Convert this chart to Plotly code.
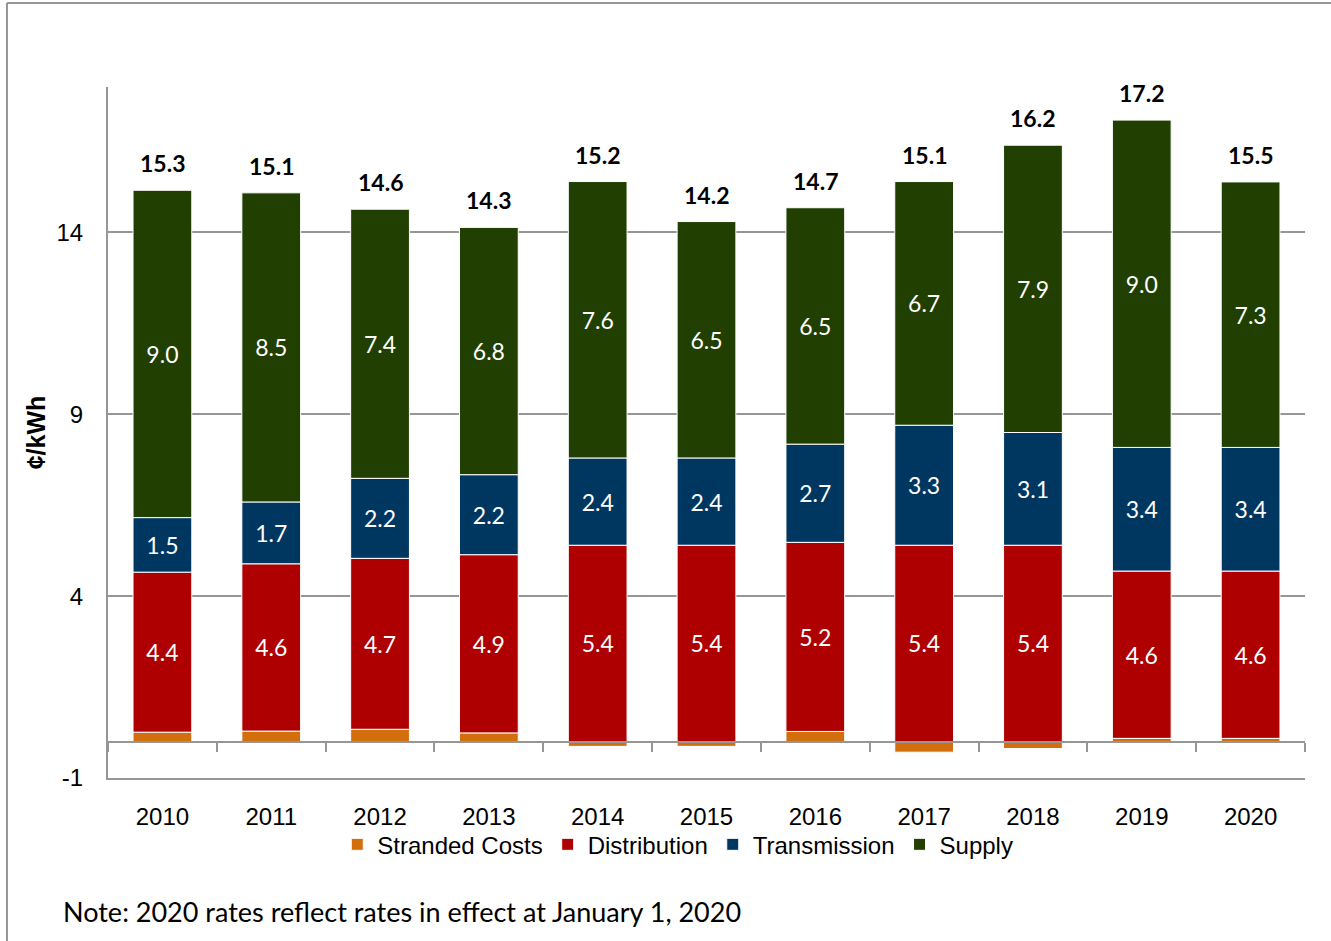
import plotly.graph_objects as go

years = ["2010", "2011", "2012", "2013", "2014", "2015", "2016", "2017", "2018", "2019", "2020"]
stranded = [0.26, 0.29, 0.34, 0.24, -0.13, -0.13, 0.28, -0.29, -0.19, 0.09, 0.09]
distribution = [4.4, 4.6, 4.7, 4.9, 5.4, 5.4, 5.2, 5.4, 5.4, 4.6, 4.6]
transmission = [1.5, 1.7, 2.2, 2.2, 2.4, 2.4, 2.7, 3.3, 3.1, 3.4, 3.4]
supply = [9.0, 8.5, 7.4, 6.8, 7.6, 6.5, 6.5, 6.7, 7.9, 9.0, 7.3]
totals = [15.3, 15.1, 14.6, 14.3, 15.2, 14.2, 14.7, 15.1, 16.2, 17.2, 15.5]
y_ticks = [-1, 4, 9, 14]
y_ticktext = ["-1", "4", "9", "14"]

C_STR = "#D26E0B"
C_DIS = "#AE0000"
C_TRA = "#003761"
C_SUP = "#203F00"
GRAY = "#969696"

label_font = dict(family="Lato, Open Sans, sans-serif", size=23, color="white")
axis_font = dict(family="Liberation Sans, Arial, sans-serif", size=24, color="black")

fig = go.Figure()

def add_bar(name, vals, color, show_text=True):
    fig.add_trace(go.Bar(
        x=years, y=vals, name=name,
        marker=dict(color=color, line=dict(color="white", width=1)),
        text=[f"{v:.1f}" for v in vals] if show_text else None,
        textposition="inside" if show_text else "none",
        insidetextanchor="middle",
        textfont=label_font,
        hoverinfo="x+y+name",
    ))

add_bar("Stranded Costs", stranded, C_STR, show_text=False)
add_bar("Distribution", distribution, C_DIS)
add_bar("Transmission", transmission, C_TRA)
add_bar("Supply", supply, C_SUP)

# invisible trace to carry the zero-line axis with category-boundary ticks
fig.add_trace(go.Scatter(x=[None], y=[None], xaxis="x2", yaxis="y", showlegend=False, hoverinfo="skip"))

# total labels above bars
for i, yr in enumerate(years):
    top = sum(max(v, 0) for v in (stranded[i], distribution[i], transmission[i], supply[i]))
    fig.add_annotation(x=i, y=top, text=f"<b>{totals[i]:.1f}</b>", showarrow=False,
                       yanchor="middle", yshift=27,
                       font=dict(family="Lato, Open Sans, sans-serif", size=23, color="black"))

# note
fig.add_annotation(xref="paper", yref="paper", x=-0.0395, y=-0.1925, xanchor="left", yanchor="middle",
                   text="Note: 2020 rates reflect rates in effect at January 1, 2020", showarrow=False,
                   font=dict(family="Lato, Open Sans, sans-serif", size=27, color="black"))

# outer frame (top and left edges)
fig.add_shape(type="line", xref="paper", yref="paper", x0=-0.0844, x1=1.03, y0=1.1216, y1=1.1216,
              line=dict(color=GRAY, width=2))
fig.add_shape(type="line", xref="paper", yref="paper", x0=-0.0844, x1=-0.0844, y0=1.1216, y1=-0.25,
              line=dict(color=GRAY, width=2))

n = len(years)
fig.update_layout(
    width=1331, height=941,
    margin=dict(l=108, r=26, t=87, b=163),
    paper_bgcolor="white", plot_bgcolor="white",
    barmode="relative", bargap=0.46,
    showlegend=True,
    legend=dict(orientation="h", x=0.476, xanchor="center", y=-0.064, yanchor="top",
                font=dict(family="Liberation Sans, Arial, sans-serif", size=24, color="black"),
                itemwidth=30, tracegroupgap=0, traceorder="normal", bgcolor="rgba(0,0,0,0)"),
    xaxis=dict(type="category", range=[-0.5, n - 0.5], showline=True, linecolor=GRAY, linewidth=2,
               ticks="outside", ticklen=16, tickcolor="rgba(0,0,0,0)", tickfont=axis_font,
               showgrid=False, zeroline=False),
    xaxis2=dict(type="linear", range=[-0.5, n - 0.5], overlaying="x", anchor="free", position=1 / 19,
                tickvals=[i - 0.5 for i in range(n + 1)], ticks="outside", ticklen=9, tickwidth=2,
                tickcolor=GRAY, showline=True, linecolor=GRAY, linewidth=2, showticklabels=False,
                showgrid=False, zeroline=False),
    yaxis=dict(range=[-1, 18], tickvals=y_ticks, ticktext=y_ticktext, showgrid=True, gridcolor=GRAY,
               gridwidth=1.5, showline=True, linecolor=GRAY, linewidth=2, zeroline=False,
               ticks="outside", ticklen=18, tickcolor="rgba(0,0,0,0)", tickfont=axis_font,
               title=dict(text="<b>¢/kWh</b>", standoff=4,
                          font=dict(family="Liberation Sans, Arial, sans-serif", size=25, color="black"))),
)

fig.write_html("out.html", config={"displayModeBar": False},
               post_script="document.body.style.margin='0';")
